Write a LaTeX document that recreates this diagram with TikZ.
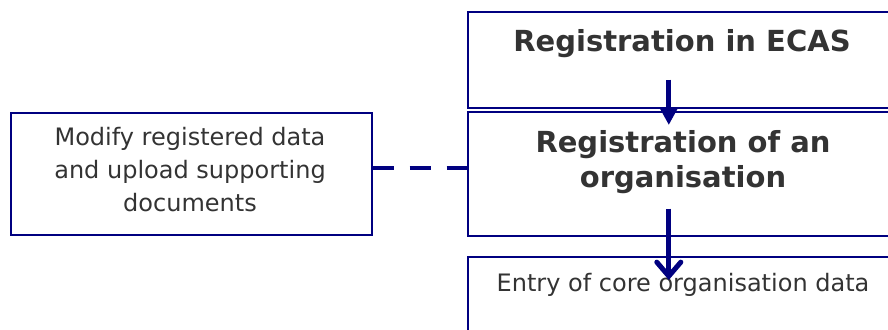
\documentclass[tikz,border=0pt]{standalone}
\usepackage{fontspec}
\setmainfont{DejaVu Sans}
\usepackage{tikz}
\usetikzlibrary{arrows.meta}
\definecolor{navy}{RGB}{0,0,128}
\definecolor{ink}{RGB}{51,51,51}
\tikzstyle{box}=[draw=navy, line width=1.6pt, rectangle, inner sep=0pt, anchor=north west]
\tikzstyle{title}=[ink, align=center, font=\fontsize{29}{35}\selectfont\bfseries, anchor=base]
\tikzstyle{plain}=[ink, align=center, font=\fontsize{24}{33}\selectfont, anchor=base]
\tikzstyle{flow}=[navy, line width=5pt]
\tikzstyle{link}=[navy, line width=4pt, dash pattern=on 21pt off 16pt]

\begin{document}
\begin{tikzpicture}[x=1pt, y=-1pt]
    \useasboundingbox (0,0) rectangle (888,329);
% Boxes
    \node[box, minimum width=425pt, minimum height=96pt] (ecas) at (467,11) {};
    \node[box, minimum width=425pt, minimum height=124pt] (org) at (467,111) {};
    \node[box, minimum width=425pt, minimum height=90pt] (core) at (467,256) {};
    \node[box, minimum width=361pt, minimum height=122pt] (modify) at (10,112) {};
% Texts (base = last line)
    \node[title] (ecastext) at (682,52) {Registration in ECAS};
    \node[title] (orgtext) at (683,187) {Registration of an\\organisation};
    \node[plain] (coretext) at (683,291) {Entry of core organisation data};
    \node[plain] (modifytext) at (190,211) {Modify registered data\\and upload supporting\\documents};
% Arrows
    \draw[flow, -{Triangle[length=16pt, width=16pt]}] ([xshift=-11.5pt, yshift=29pt]ecas.south) -- ([xshift=-11.5pt, yshift=-14pt]org.north);
    \draw[flow, -{Straight Barb[length=14pt, width=24pt, line cap=round]}] ([xshift=-11.5pt, yshift=28pt]org.south) -- ([xshift=-11.5pt, yshift=-24pt]core.north);
% Link
    \draw[link] ([yshift=6pt]modify.east) -- ([yshift=6pt]org.west);
\end{tikzpicture}
\end{document}
